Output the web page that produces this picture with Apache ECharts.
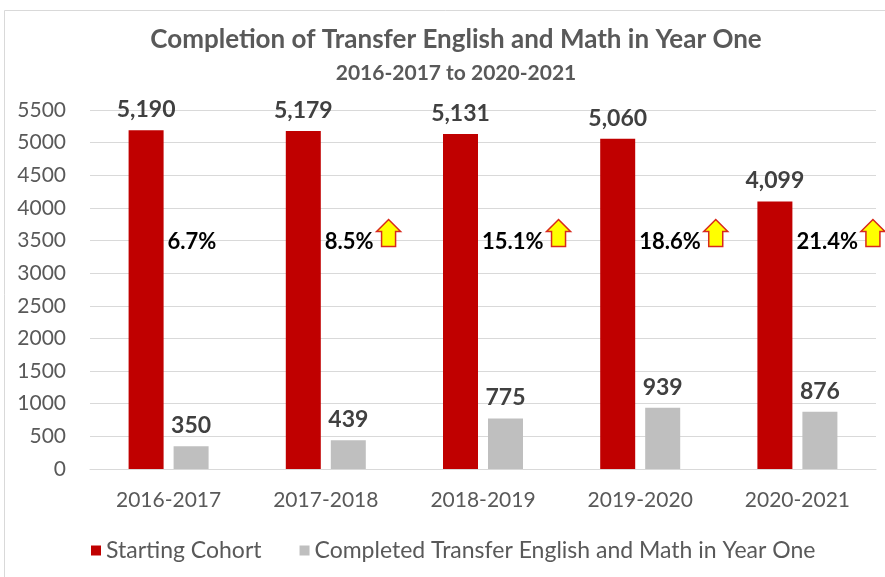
<!DOCTYPE html>
<html>
<head>
<meta charset="utf-8">
<script src="https://cdn.jsdelivr.net/npm/echarts@6/dist/echarts.min.js"></script>
<style>
  html, body { margin: 0; padding: 0; background: #fff; }
  #chart { width: 885px; height: 577px; }
</style>
</head>
<body>
<div id="chart"></div>
<script>
// 数据
var years = ["2016-2017", "2017-2018", "2018-2019", "2019-2020", "2020-2021"];
var startingCohort = [5190, 5179, 5131, 5060, 4099];
var completed = [350, 439, 775, 939, 876];
var completionRate = ["6.7%", "8.5%", "15.1%", "18.6%", "21.4%"];
var showArrow = [false, true, true, true, true];
var yTicks = { min: 0, max: 5500, interval: 500 };
var rateLevel = 3500; // 百分比标签所在的高度

var FONT = "Lato, 'Open Sans', sans-serif";
var BAR_W = 35;
var BAR_GAP = 10;

var measureCtx = document.createElement("canvas").getContext("2d");
function textWidth(txt, font) {
  measureCtx.font = font;
  return measureCtx.measureText(txt).width;
}

var chart = echarts.init(document.getElementById("chart"));

var option = {
  animation: false,
  backgroundColor: "#fff",
  title: [
    {
      text: "Completion of Transfer English and Math in Year One",
      left: 451,
      textAlign: "center",
      top: 22,
      textStyle: { color: "#595959", fontSize: 26, fontWeight: "bold", fontFamily: FONT },
    },
    {
      text: "2016-2017 to 2020-2021",
      left: 451,
      textAlign: "center",
      top: 58,
      textStyle: { color: "#595959", fontSize: 21, fontWeight: "bold", fontFamily: FONT },
    },
  ],
  legend: {
    left: 86,
    top: 534,
    icon: "rect",
    itemWidth: 10,
    itemHeight: 10,
    itemGap: 38,
    textStyle: { color: "#595959", fontSize: 23, fontFamily: FONT },
    data: ["Starting Cohort", "Completed Transfer English and Math in Year One"],
  },
  grid: { left: 90, right: 9, top: 110, bottom: 108 },
  xAxis: {
    type: "category",
    data: years,
    axisTick: { show: false },
    axisLine: { lineStyle: { color: "#d9d9d9", width: 1 } },
    axisLabel: { color: "#595959", fontSize: 21, fontFamily: FONT, margin: 21 },
  },
  yAxis: {
    type: "value",
    min: yTicks.min,
    max: yTicks.max,
    interval: yTicks.interval,
    axisLine: { show: false },
    axisTick: { show: false },
    splitLine: { lineStyle: { color: "#d9d9d9", width: 1 } },
    axisLabel: {
      color: "#595959",
      fontSize: 21,
      fontFamily: FONT,
      margin: 24,
      formatter: function (v) {
        return String(v);
      },
    },
  },
  graphic: [
    {
      type: "rect",
      shape: { x: 4.5, y: 10.5, width: 900, height: 600 },
      style: { fill: "none", stroke: "#d9d9d9", lineWidth: 1 },
      silent: true,
    },
  ],
  series: [
    {
      name: "Starting Cohort",
      type: "bar",
      barWidth: BAR_W,
      barGap: (BAR_GAP / BAR_W) * 100 + "%",
      itemStyle: { color: "#c00000" },
      label: {
        show: true,
        position: "top",
        distance: 9,
        color: "#404040",
        fontSize: 23,
        fontWeight: "bold",
        fontFamily: FONT,
        formatter: function (p) {
          return echarts.format.addCommas(p.value);
        },
      },
      data: startingCohort,
    },
    {
      name: "Completed Transfer English and Math in Year One",
      type: "bar",
      barWidth: BAR_W,
      itemStyle: { color: "#bfbfbf" },
      label: {
        show: true,
        position: "top",
        distance: 9,
        color: "#404040",
        fontSize: 23,
        fontWeight: "bold",
        fontFamily: FONT,
      },
      data: completed,
    },
    {
      // 完成率标签 + 上升箭头
      type: "custom",
      silent: true,
      z: 5,
      renderItem: function (params, api) {
        var i = api.value(0);
        var pt = api.coord([i, api.value(1)]);
        var txt = completionRate[i];
        var font = "bold 22px " + FONT;
        var x0 = pt[0] - BAR_GAP / 2 + 4;
        var w = textWidth(txt, font);
        var children = [
          {
            type: "text",
            style: {
              x: x0,
              y: pt[1] + 1,
              text: txt,
              fill: "#000",
              font: font,
              textAlign: "left",
              textVerticalAlign: "middle",
            },
          },
        ];
        if (showArrow[i]) {
          var ax = x0 + w + 3;
          var ay = pt[1] - 21;
          children.push({
            type: "polygon",
            shape: {
              points: [
                [ax + 12, ay],
                [ax + 24, ay + 12],
                [ax + 19, ay + 12],
                [ax + 19, ay + 27],
                [ax + 5, ay + 27],
                [ax + 5, ay + 12],
                [ax, ay + 12],
              ],
            },
            style: { fill: "#ffff00", stroke: "#d8291c", lineWidth: 1.5 },
          });
        }
        return { type: "group", children: children };
      },
      data: years.map(function (y, i) {
        return [i, rateLevel];
      }),
    },
  ],
};

chart.setOption(option);
</script>
</body>
</html>
